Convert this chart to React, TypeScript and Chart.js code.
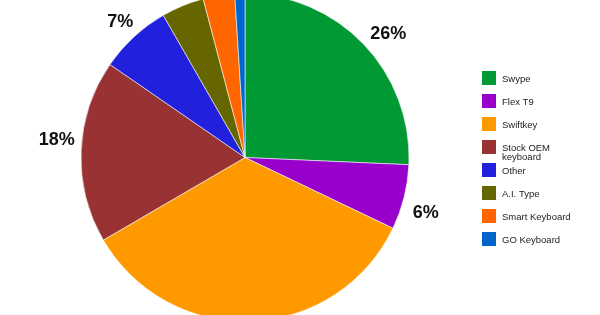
import React, { useEffect, useRef } from "react";
import { Chart, registerables } from "chart.js";

Chart.register(...registerables);

const labels = ["Swype", "Flex T9", "Swiftkey", "Stock OEM keyboard", "Other", "A.I. Type", "Smart Keyboard", "GO Keyboard"];
const legendLines = [["Swype"], ["Flex T9"], ["Swiftkey"], ["Stock OEM", "keyboard"], ["Other"], ["A.I. Type"], ["Smart Keyboard"], ["GO Keyboard"]];
const values = [25.7, 6.4, 34.5, 18.0, 7.1, 4.2, 3.1, 1.0];
const colors = ["#009933", "#9900cc", "#ff9900", "#993333", "#2121dd", "#666600", "#ff6600", "#0066cc"];

const FONT = "Arial, 'Liberation Sans', sans-serif";

const labelPlugin = {
  id: "pieLabels",
  afterDraw(chart: any) {
    const ctx = chart.ctx;
    const meta = chart.getDatasetMeta(0);
    const total = values.reduce((a, b) => a + b, 0);
    ctx.save();
    ctx.font = `bold 18px ${FONT}`;
    ctx.fillStyle = "#111";
    ctx.textAlign = "center";
    ctx.textBaseline = "middle";
    meta.data.forEach((arc: any, i: number) => {
      const { x, y, startAngle, endAngle, outerRadius } = arc.getProps(["x", "y", "startAngle", "endAngle", "outerRadius"], true);
      const share = values[i] / total;
      const rot = share >= 0.1 || i === 1 ? 3 : 0;
      const mid = (startAngle + endAngle) / 2 + (rot * Math.PI) / 180;
      const d = outerRadius + (rot ? 25 : 20);
      const tx = x + Math.cos(mid) * d;
      const ty = y + Math.sin(mid) * d;
      const pct = Math.round(share * 100);
      ctx.fillText(pct + "%", tx, ty);
    });
    // legend
    ctx.font = `9.5px ${FONT}`;
    ctx.textAlign = "left";
    labels.forEach((_, i) => {
      const top = 71 + i * 23;
      ctx.fillStyle = colors[i];
      ctx.fillRect(482, top, 14, 14);
      ctx.fillStyle = "#222";
      const lines = legendLines[i];
      lines.forEach((ln, j) => {
        ctx.fillText(ln, 502, top + 8 + j * 9.5);
      });
    });
    ctx.restore();
  },
};

export default function App() {
  const ref = useRef<HTMLCanvasElement>(null);
  useEffect(() => {
    document.body.style.margin = "0";
    const chart = new Chart(ref.current!, {
      type: "pie",
      data: {
        labels,
        datasets: [
          {
            data: values,
            backgroundColor: colors,
            borderColor: "rgba(255,255,255,0.7)",
            borderWidth: 0.8,
            hoverOffset: 0,
          },
        ],
      },
      options: {
        responsive: false,
        animation: false,
        radius: 164,
        layout: { padding: { left: 81, right: 191, top: -7, bottom: -6 } },
        plugins: { legend: { display: false }, tooltip: { enabled: false } },
      } as any,
      plugins: [labelPlugin],
    });
    return () => chart.destroy();
  }, []);
  return (
    <div style={{ position: "fixed", left: 0, top: 0, width: 600, height: 315, overflow: "hidden", background: "#fff" }}>
      <canvas ref={ref} width={600} height={315} style={{ width: 600, height: 315 }} />
    </div>
  );
}
